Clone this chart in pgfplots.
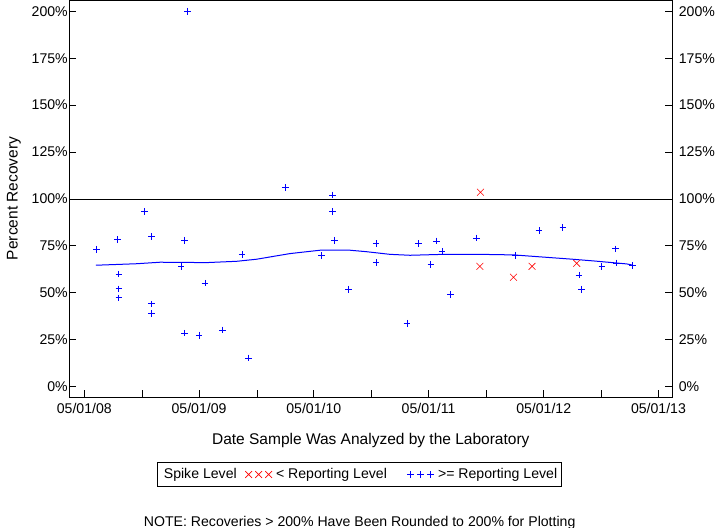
\documentclass[border=0pt]{standalone}
\usepackage{pgfplots}
\pgfplotsset{compat=1.18}
\usepackage{fontspec}
\setmainfont{Liberation Sans}

\newcommand{\smallfont}{\fontsize{14.1bp}{16bp}\selectfont}
\newcommand{\labelfont}{\fontsize{15.5bp}{18bp}\selectfont}

% x = days after 05/01/08, y = percent recovery
\pgfplotstableread{
day pct
39 73.2
105 78.3
110 60.0
110 52.1
110 47.3
191 93.4
214 79.9
214 44.1
214 38.9
308 63.9
319 78.0
319 28.5
328 200
365 27.4
384 55.2
439 30.2
502 70.3
523 15.3
639 106.2
754 69.8
789 102.1
789 93.4
795 78.0
840 51.9
928 76.2
928 66.1
1026 33.8
1062 76.2
1102 65.0
1120 77.6
1138 71.9
1164 49.2
1248 79.2
1370 69.8
1446 83.3
1522 84.9
1573 59.4
1582 51.9
1646 63.9
1690 73.4
1693 65.9
1743 64.5
}\abovelevel

\pgfplotstableread{
day pct
1258 64.1
1260 103.6
1365 58.3
1424 64.1
1566 65.7
}\belowlevel

\pgfplotstableread{
day pct
37 64.7
167 65.5
241 66.3
389 66.1
485 66.8
548 67.9
654 70.9
750 72.7
845 72.7
898 71.9
972 70.5
1036 70.0
1142 70.5
1258 70.5
1365 70.2
1471 68.9
1545 68.0
1619 67.0
1725 65.4
1743 64.8
}\smoothfit

\pgfplotsset{
  recov/.style={
    scale only axis,
    width=603bp, height=397bp,
    at={(69.3bp,131bp)}, anchor=south west,
    xmin=-47.7, xmax=1870,
    ymin=-5.5, ymax=206,
    ytick={0,25,...,200},
    yticklabels={0\%,25\%,50\%,75\%,100\%,125\%,150\%,175\%,200\%},
    tick align=inside,
    major tick length=7bp,
    axis line style={line width=0.8bp},
    every tick/.style={black, line width=0.8bp},
    tick label style={font=\smallfont},
  },
  threemarks/.style={
    legend image code/.code={\draw[##1] plot coordinates {(0bp,0bp) (10bp,0bp) (20bp,0bp)};}
  },
}

\begin{document}
\begin{tikzpicture}
\useasboundingbox (0,0) rectangle (720bp,528bp);

\begin{axis}[
    recov,
    xtick={0,184,365,549,730,914,1095,1279,1461,1645,1826},
    xticklabels={05/01/08,,05/01/09,,05/01/10,,05/01/11,,05/01/12,,05/01/13},
    xtick pos=left,
    ytick pos=left,
    yticklabel style={xshift=2bp},
    xticklabel style={yshift=-3bp},
    xlabel={Date Sample Was Analyzed by the Laboratory},
    ylabel={Percent Recovery},
    every axis x label/.style={at={(axis description cs:0.5,-0.1083)}, anchor=center, font=\labelfont},
    every axis y label/.style={at={(axis description cs:-0.0917,0.5)}, anchor=center, rotate=90, font=\labelfont},
    legend style={
        at={(axis description cs:0.4813,-0.1952)},
        anchor=center,
        legend columns=3,
        draw=black,
        line width=0.8bp,
        font=\smallfont,
        inner xsep=2bp,
        inner ysep=4bp,
        /tikz/every odd column/.append style={column sep=2bp},
        /tikz/column 2/.append style={column sep=6.5bp},
        /tikz/column 4/.append style={column sep=18.5bp},
    },
    legend cell align=left,
]

% 100% reference line
\addplot[black, line width=0.8bp, forget plot] coordinates {(-47.7,100) (1870,100)};

% fitted curve
\addplot[blue, line width=1bp, forget plot] table[x=day, y=pct] {\smoothfit};

\addlegendimage{empty legend}
\addlegendentry{Spike Level}

\addplot[only marks, mark=x, red, mark size=4.8bp, line width=0.6bp, threemarks]
    table[x=day, y=pct] {\belowlevel};
\addlegendentry{< Reporting Level}

\addplot[only marks, mark=+, blue, mark size=3.3bp, line width=0.8bp, threemarks]
    table[x=day, y=pct] {\abovelevel};
\addlegendentry{>= Reporting Level}

\end{axis}

% right-hand labels
\begin{axis}[
    recov,
    xtick=\empty,
    ytick pos=right,
    yticklabel pos=right,
    yticklabel style={xshift=3bp},
]
\end{axis}

\node[font=\smallfont, anchor=base] at (359.7bp,2bp)
    {NOTE: Recoveries > 200\% Have Been Rounded to 200\% for Plotting};
\end{tikzpicture}
\end{document}
